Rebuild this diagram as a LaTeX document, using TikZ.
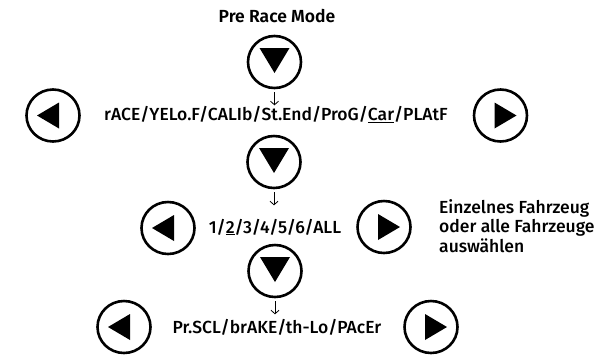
\documentclass[tikz,border=0pt]{standalone}
\usepackage{fontspec}
\setmainfont{Fira Sans}[UprightFont=* Medium, BoldFont=* SemiBold]
\usetikzlibrary{shapes.geometric,arrows.meta,calc}
\tikzset{
  btn/.style={draw, line width=2.6pt, ellipse, minimum width=53pt, minimum height=52pt, inner sep=0pt},
  lbl/.style={font=\fontsize{17.5}{19.5}\selectfont, inner sep=1pt},
  conn/.style={-{Straight Barb[length=3.5pt,width=8pt]}, line width=0.8pt},
  tri/.style={fill=black}
}
\begin{document}
\begin{tikzpicture}[x=1pt,y=-1pt]
\useasboundingbox (0,0) rectangle (612,360);
\node[lbl,font=\fontsize{17.5}{19.5}\selectfont\bfseries] (t0) at (277,16) {Pre Race Mode};
% down buttons
\foreach \n/\x/\y in {d1/274.5/62, d2/274/162, d3/275/271}{
  \node[btn] (\n) at (\x,\y) {};
  \fill[tri] ($(\n.center)+(-15,-14)$) -- ($(\n.center)+(15,-14)$) -- ($(\n.center)+(0,11)$) -- cycle;
}
% left buttons
\foreach \n/\x/\y in {l1/53/115.5, l2/168/228, l3/124/327}{
  \node[btn] (\n) at (\x,\y) {};
  \fill[tri] ($(\n.center)+(-16,0)$) -- ($(\n.center)+(6,-13)$) -- ($(\n.center)+(6,13)$) -- cycle;
}
% right buttons
\foreach \n/\x/\y in {r1/500.5/115.5, r2/384/227, r3/431/327}{
  \node[btn] (\n) at (\x,\y) {};
  \fill[tri] ($(\n.center)+(16,0)$) -- ($(\n.center)+(-6,-13)$) -- ($(\n.center)+(-6,13)$) -- cycle;
}
\node[lbl] (t1) at (276,115) {rACE/YELo.F/CALIb/St.End/ProG/\underline{Car}/PLAtF};
\node[lbl] (t2) at (275,227) {1/\underline{2}/3/4/5/6/ALL};
\node[lbl] (t3) at (277,327) {Pr.SCL/brAKE/th-Lo/PAcEr};
\node[lbl, anchor=west, align=left] (side) at (438,226) {Einzelnes Fahrzeug\\oder alle Fahrzeuge\\auswählen};
\foreach \a/\b in {d1/t1, d2/t2, d3/t3}{
  \draw[conn] ($(\a.south)+(0,3)$) -- ($(\a.south)+(0,16)$);
}
\end{tikzpicture}
\end{document}
